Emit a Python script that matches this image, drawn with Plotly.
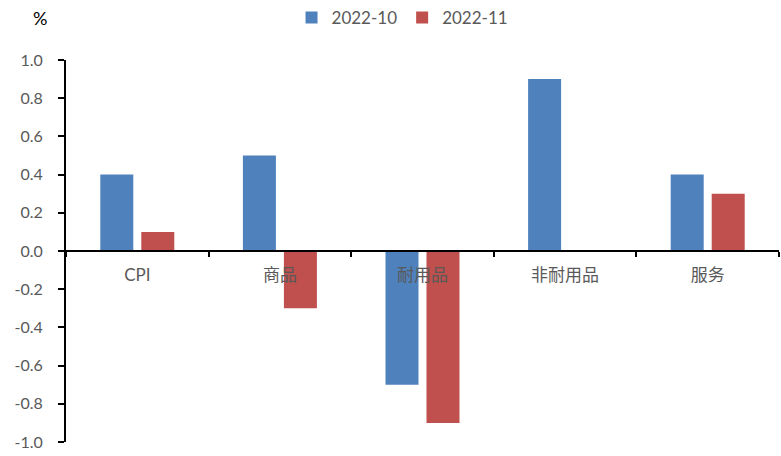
import plotly.graph_objects as go

categories = ["CPI", "商品", "耐用品", "非耐用品", "服务"]
oct_2022 = [0.4, 0.5, -0.7, 0.9, 0.4]
nov_2022 = [0.1, -0.3, -0.9, 0.0, 0.3]
y_ticks = [1.0, 0.8, 0.6, 0.4, 0.2, 0.0, -0.2, -0.4, -0.6, -0.8, -1.0]

FONT = "Lato, 'Noto Sans CJK SC', sans-serif"
GRAY = "#595959"

fig = go.Figure()
fig.add_trace(go.Bar(name="2022-10", x=categories, y=oct_2022,
                     marker=dict(color="#4F81BD", line=dict(width=0))))
fig.add_trace(go.Bar(name="2022-11", x=categories, y=nov_2022,
                     marker=dict(color="#C0504D", line=dict(width=0))))

fig.update_layout(
    width=781, height=456,
    margin=dict(l=66, r=2, t=60, b=14),
    paper_bgcolor="white", plot_bgcolor="white",
    barmode="group", bargap=0.425, bargroupgap=0.195,
    font=dict(family=FONT, color=GRAY, size=16),
    showlegend=True,
    hovermode=False,
    legend=dict(orientation="h", x=0.472, xanchor="center", y=1.0, yanchor="top",
                yref="container", font=dict(size=17, color=GRAY),
                itemwidth=30, traceorder="normal"),
    xaxis=dict(
        type="category", anchor="free", position=0.5,
        showline=True, linecolor="black", linewidth=1.5,
        ticks="outside", tickson="boundaries", ticklen=5, tickcolor="black", tickwidth=1.5,
        tickfont=dict(size=17, color=GRAY), ticklabelstandoff=9,
        showgrid=False, zeroline=False,
    ),
    yaxis=dict(
        range=[-1.0, 1.0], tickvals=y_ticks, ticktext=[f"{v:.1f}" for v in y_ticks],
        showline=True, linecolor="black", linewidth=2,
        ticks="outside", ticklen=6, tickcolor="black", tickwidth=1.5,
        tickfont=dict(size=16, color=GRAY), ticklabelstandoff=12,
        showgrid=False, zeroline=False,
    ),
    annotations=[dict(text="%", xref="paper", yref="paper",
                      x=(40 - 66) / (781 - 66 - 2),
                      y=1 + (60 - 18) / (456 - 60 - 14),
                      xanchor="center", yanchor="middle",
                      showarrow=False, font=dict(size=18, color="black"))],
)

fig.write_html("out.html")
